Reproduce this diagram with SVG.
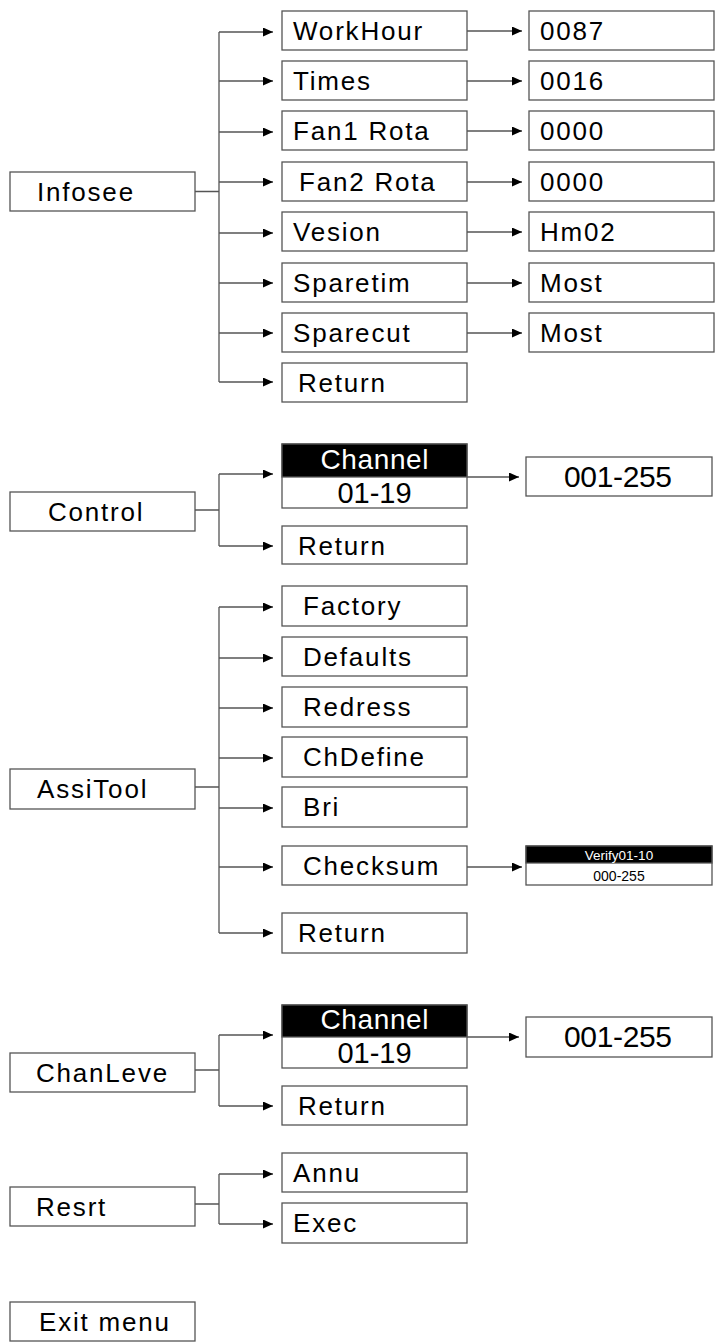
<svg xmlns="http://www.w3.org/2000/svg" width="715" height="1342" viewBox="0 0 715 1342">
<style>
.b{fill:#fff;stroke:#555;stroke-width:1.3}
.k{fill:#000;stroke:#555;stroke-width:1.3}
.t{font-family:"Liberation Sans",Arial,sans-serif;font-size:26px;letter-spacing:1.8px;fill:#000}
.c{font-family:"Liberation Sans",Arial,sans-serif;text-anchor:middle;fill:#000}
.w{fill:#fff}
.ln{fill:none;stroke:#555;stroke-width:1.3}
.ar{fill:none;stroke:#555;stroke-width:1.3;marker-end:url(#ah)}
</style>
<defs>
<marker id="ah" markerUnits="userSpaceOnUse" markerWidth="11" markerHeight="10" refX="10" refY="4.5" orient="auto">
<path d="M0,0 L10,4.5 L0,9 z" fill="#000"/>
</marker>
</defs>
<rect width="715" height="1342" fill="#fff"/>
<g id="connectors">
<path class="ln" d="M195,191.5 H219 M219,32 V382"/>
<path class="ar" d="M219,32 H273"/>
<path class="ar" d="M219,81 H273"/>
<path class="ar" d="M219,132 H273"/>
<path class="ar" d="M219,182 H273"/>
<path class="ar" d="M219,233 H273"/>
<path class="ar" d="M219,283 H273"/>
<path class="ar" d="M219,333 H273"/>
<path class="ar" d="M219,382 H273"/>
<path class="ar" d="M467,31 H522"/>
<path class="ar" d="M467,81 H522"/>
<path class="ar" d="M467,131 H522"/>
<path class="ar" d="M467,182 H522"/>
<path class="ar" d="M467,232 H522"/>
<path class="ar" d="M467,283 H522"/>
<path class="ar" d="M467,333 H522"/>
<path class="ln" d="M195,510 H219 M219,474 V546"/>
<path class="ar" d="M219,474 H273"/>
<path class="ar" d="M219,546 H273"/>
<path class="ar" d="M467,477 H519"/>
<path class="ln" d="M195,787 H219 M219,607 V933"/>
<path class="ar" d="M219,607 H273"/>
<path class="ar" d="M219,658 H273"/>
<path class="ar" d="M219,708 H273"/>
<path class="ar" d="M219,758 H273"/>
<path class="ar" d="M219,808 H273"/>
<path class="ar" d="M219,867 H273"/>
<path class="ar" d="M219,933 H273"/>
<path class="ar" d="M467,867 H522"/>
<path class="ln" d="M195,1070 H219 M219,1035 V1106"/>
<path class="ar" d="M219,1035 H273"/>
<path class="ar" d="M219,1106 H273"/>
<path class="ar" d="M467,1037 H519"/>
<path class="ln" d="M195,1204 H219 M219,1174 V1224"/>
<path class="ar" d="M219,1174 H273"/>
<path class="ar" d="M219,1224 H273"/>
</g>
<g id="infosee"><rect class="b" x="10" y="172" width="185" height="39"/><text class="t" x="37" y="201">Infosee</text></g>
<g id="workhour"><rect class="b" x="282" y="11" width="185" height="39"/><text class="t" x="293" y="40">WorkHour</text></g>
<g id="times"><rect class="b" x="282" y="61" width="185" height="39"/><text class="t" x="293" y="90">Times</text></g>
<g id="fan1"><rect class="b" x="282" y="111" width="185" height="39"/><text class="t" x="293" y="140">Fan1 Rota</text></g>
<g id="fan2"><rect class="b" x="282" y="162" width="185" height="39"/><text class="t" x="299" y="191">Fan2 Rota</text></g>
<g id="vesion"><rect class="b" x="282" y="212" width="185" height="39"/><text class="t" x="293" y="241">Vesion</text></g>
<g id="sparetim"><rect class="b" x="282" y="263" width="185" height="39"/><text class="t" x="293" y="292">Sparetim</text></g>
<g id="sparecut"><rect class="b" x="282" y="313" width="185" height="39"/><text class="t" x="293" y="342">Sparecut</text></g>
<g id="return1"><rect class="b" x="282" y="363" width="185" height="39"/><text class="t" x="298" y="392">Return</text></g>
<g id="v0087"><rect class="b" x="529" y="11" width="185" height="39"/><text class="t" x="540" y="40">0087</text></g>
<g id="v0016"><rect class="b" x="529" y="61" width="185" height="39"/><text class="t" x="540" y="90">0016</text></g>
<g id="v0000a"><rect class="b" x="529" y="111" width="185" height="39"/><text class="t" x="540" y="140">0000</text></g>
<g id="v0000b"><rect class="b" x="529" y="162" width="185" height="39"/><text class="t" x="540" y="191">0000</text></g>
<g id="vhm02"><rect class="b" x="529" y="212" width="185" height="39"/><text class="t" x="540" y="241">Hm02</text></g>
<g id="vmost1"><rect class="b" x="529" y="263" width="185" height="39"/><text class="t" x="540" y="292">Most</text></g>
<g id="vmost2"><rect class="b" x="529" y="313" width="185" height="39"/><text class="t" x="540" y="342">Most</text></g>

<g id="control"><rect class="b" x="10" y="492" width="185" height="39"/><text class="t" x="48" y="521">Control</text></g>
<g id="channel1"><rect class="b" x="282" y="444" width="185" height="64"/><rect class="k" x="282" y="444" width="185" height="33"/><text class="c w" x="374.5" y="469" font-size="28" textLength="108">Channel</text><text class="c" x="374.5" y="503" font-size="29">01-19</text></g>
<g id="return2"><rect class="b" x="282" y="526" width="185" height="38"/><text class="t" x="298" y="555">Return</text></g>
<g id="v255a"><rect class="b" x="526" y="457" width="186" height="39"/><text class="c" x="618" y="487" font-size="30" textLength="108">001-255</text></g>

<g id="assitool"><rect class="b" x="10" y="769" width="185" height="40"/><text class="t" x="37" y="798">AssiTool</text></g>
<g id="factory"><rect class="b" x="282" y="586" width="185" height="40"/><text class="t" x="303" y="615">Factory</text></g>
<g id="defaults"><rect class="b" x="282" y="637" width="185" height="39"/><text class="t" x="303" y="666">Defaults</text></g>
<g id="redress"><rect class="b" x="282" y="687" width="185" height="40"/><text class="t" x="303" y="716">Redress</text></g>
<g id="chdefine"><rect class="b" x="282" y="737" width="185" height="40"/><text class="t" x="303" y="766">ChDefine</text></g>
<g id="bri"><rect class="b" x="282" y="787" width="185" height="40"/><text class="t" x="303" y="816">Bri</text></g>
<g id="checksum"><rect class="b" x="282" y="846" width="185" height="39"/><text class="t" x="303" y="875">Checksum</text></g>
<g id="return3"><rect class="b" x="282" y="913" width="185" height="40"/><text class="t" x="298" y="942">Return</text></g>
<g id="verify"><rect class="b" x="526" y="846" width="186" height="39"/><rect class="k" x="526" y="846" width="186" height="17"/><text class="c w" x="619" y="860" font-size="13.5">Verify01-10</text><text class="c" x="619" y="881" font-size="14">000-255</text></g>

<g id="chanleve"><rect class="b" x="10" y="1053" width="185" height="39"/><text class="t" x="36" y="1082">ChanLeve</text></g>
<g id="channel2"><rect class="b" x="282" y="1005" width="185" height="63"/><rect class="k" x="282" y="1005" width="185" height="32"/><text class="c w" x="374.5" y="1029" font-size="28" textLength="108">Channel</text><text class="c" x="374.5" y="1063" font-size="29">01-19</text></g>
<g id="return4"><rect class="b" x="282" y="1086" width="185" height="39"/><text class="t" x="298" y="1115">Return</text></g>
<g id="v255b"><rect class="b" x="526" y="1017" width="186" height="40"/><text class="c" x="618" y="1047" font-size="30" textLength="108">001-255</text></g>

<g id="resrt"><rect class="b" x="10" y="1187" width="185" height="39"/><text class="t" x="36" y="1216">Resrt</text></g>
<g id="annu"><rect class="b" x="282" y="1153" width="185" height="39"/><text class="t" x="293" y="1182">Annu</text></g>
<g id="exec"><rect class="b" x="282" y="1203" width="185" height="40"/><text class="t" x="293" y="1232">Exec</text></g>

<g id="exitmenu"><rect class="b" x="10" y="1302" width="185" height="39"/><text class="t" x="39" y="1331">Exit menu</text></g>
</svg>
